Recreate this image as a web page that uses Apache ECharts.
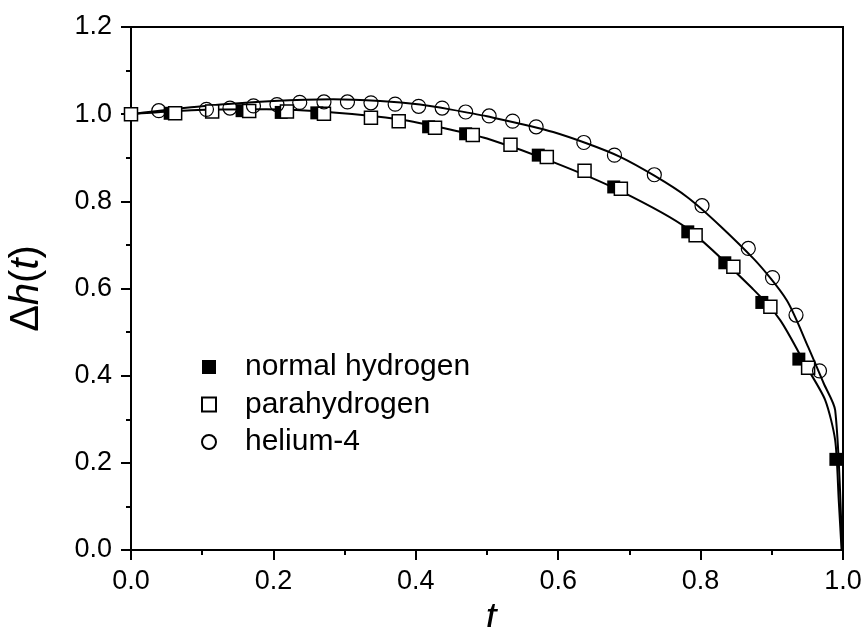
<!DOCTYPE html>
<html>
<head>
<meta charset="utf-8">
<script src="https://cdn.jsdelivr.net/npm/echarts@6/dist/echarts.min.js"></script>
<style>html,body{margin:0;padding:0;background:#fff;}#c{width:863px;height:627px;}</style>
</head>
<body>
<div id="c"></div>
<script>
// Measured data points [t, Δh(t)]
const normalHydrogen = [[0.055,1.002],[0.156,1.008],[0.211,1.004],[0.261,1.003],[0.418,0.971],[0.470,0.955],[0.572,0.906],[0.678,0.833],[0.782,0.730],[0.834,0.659],[0.886,0.568],[0.938,0.438],[0.990,0.208]];
const parahydrogen = [[0.0,1.0],[0.062,1.002],[0.114,1.006],[0.166,1.007],[0.219,1.006],[0.271,1.001],[0.337,0.992],[0.376,0.984],[0.427,0.969],[0.480,0.952],[0.533,0.930],[0.584,0.902],[0.637,0.870],[0.688,0.829],[0.793,0.722],[0.846,0.650],[0.898,0.558],[0.951,0.418]];
const helium4 = [[0.039,1.008],[0.106,1.011],[0.139,1.014],[0.172,1.019],[0.205,1.022],[0.237,1.027],[0.271,1.028],[0.304,1.028],[0.337,1.026],[0.371,1.023],[0.404,1.018],[0.437,1.014],[0.470,1.005],[0.503,0.996],[0.536,0.984],[0.569,0.971],[0.636,0.935],[0.679,0.906],[0.735,0.861],[0.802,0.790],[0.867,0.692],[0.901,0.625],[0.934,0.539],[0.967,0.411]];
// Fitted curves
const fitUpper = [[0,1.0],[0.1,1.018],[0.2,1.030],[0.284,1.034],[0.35,1.030],[0.406,1.022],[0.448,1.011],[0.5,0.995],[0.593,0.959],[0.687,0.902],[0.781,0.810],[0.874,0.669],[0.921,0.573],[0.951,0.466],[0.973,0.382],[0.989,0.321],[0.9987,0.0]];
const fitLower = [[0,1.0],[0.085,1.009],[0.19,1.011],[0.284,1.004],[0.378,0.988],[0.448,0.965],[0.5,0.944],[0.593,0.890],[0.687,0.824],[0.781,0.738],[0.874,0.598],[0.912,0.527],[0.949,0.420],[0.975,0.344],[0.989,0.252],[0.994,0.115],[0.998,0.0]];
const seriesNames = ['normal hydrogen','parahydrogen','helium-4'];
const xTicks = {min:0, max:1, interval:0.2};
const yTicks = {min:0, max:1.2, interval:0.2};

const FONT = 'Liberation Sans, Arial, sans-serif';
const chart = echarts.init(document.getElementById('c'), null, {renderer:'canvas'});
const axisCommon = {
  axisLine:{show:true, onZero:false, lineStyle:{color:'#000', width:2}},
  axisTick:{show:true, inside:false, length:10, lineStyle:{color:'#000', width:2}},
  minorTick:{show:true, splitNumber:2, length:5, lineStyle:{color:'#000', width:2}},
  splitLine:{show:false},
  axisLabel:{color:'#000', fontSize:27, fontFamily:FONT, formatter:v=>v.toFixed(1)}
};
chart.setOption({
  animation:false,
  backgroundColor:'#fff',
  grid:{left:131, right:20, top:27, bottom:77, containLabel:false, outerBoundsMode:'none',
    show:true, borderColor:'#000', borderWidth:2, backgroundColor:'transparent'},
  xAxis:Object.assign({type:'value', min:xTicks.min, max:xTicks.max, interval:xTicks.interval,
    name:'t', nameLocation:'middle', nameGap:46,
    nameTextStyle:{fontSize:40, fontStyle:'italic', fontFamily:FONT, color:'#000', padding:[0,0,0,8]}}, axisCommon,
    {axisLabel:Object.assign({}, axisCommon.axisLabel, {margin:18})}),
  yAxis:Object.assign({type:'value', min:yTicks.min, max:yTicks.max, interval:yTicks.interval,
    name:'{n|Δ}{i|h}{n|(}{i|t}{n|)}', nameLocation:'middle', nameGap:84, nameRotate:90,
    nameTextStyle:{fontSize:40, fontFamily:FONT, color:'#000',
      rich:{n:{fontSize:40, fontFamily:FONT, color:'#000'}, i:{fontSize:40, fontFamily:FONT, fontStyle:'italic', color:'#000'}}}}, axisCommon,
    {axisLabel:Object.assign({}, axisCommon.axisLabel, {margin:19})}),
  legend:{
    data:seriesNames, orient:'vertical', left:196, top:347, itemWidth:14, itemHeight:14, itemGap:7.5,
    textStyle:{fontSize:30, fontFamily:FONT, color:'#000', padding:[0,0,0,24]},
    selectedMode:false
  },
  series:[
    {type:'line', data:fitUpper, smooth:0.25, symbol:'none', lineStyle:{color:'#000', width:2}, z:2, silent:true},
    {type:'line', data:fitLower, smooth:0.25, symbol:'none', lineStyle:{color:'#000', width:2}, z:2, silent:true},
    {name:seriesNames[0], type:'scatter', data:normalHydrogen, symbol:'rect', symbolSize:13, itemStyle:{color:'#000', opacity:1}, z:3},
    {name:seriesNames[1], type:'scatter', data:parahydrogen, symbol:'rect', symbolSize:13, itemStyle:{color:'#fff', borderColor:'#000', borderWidth:1.5, opacity:1}, z:4},
    {name:seriesNames[2], type:'scatter', data:helium4, symbol:'circle', symbolSize:14, itemStyle:{color:'rgba(255,255,255,0)', borderColor:'#000', borderWidth:1.2, opacity:1}, z:4}
  ]
});
</script>
</body>
</html>
